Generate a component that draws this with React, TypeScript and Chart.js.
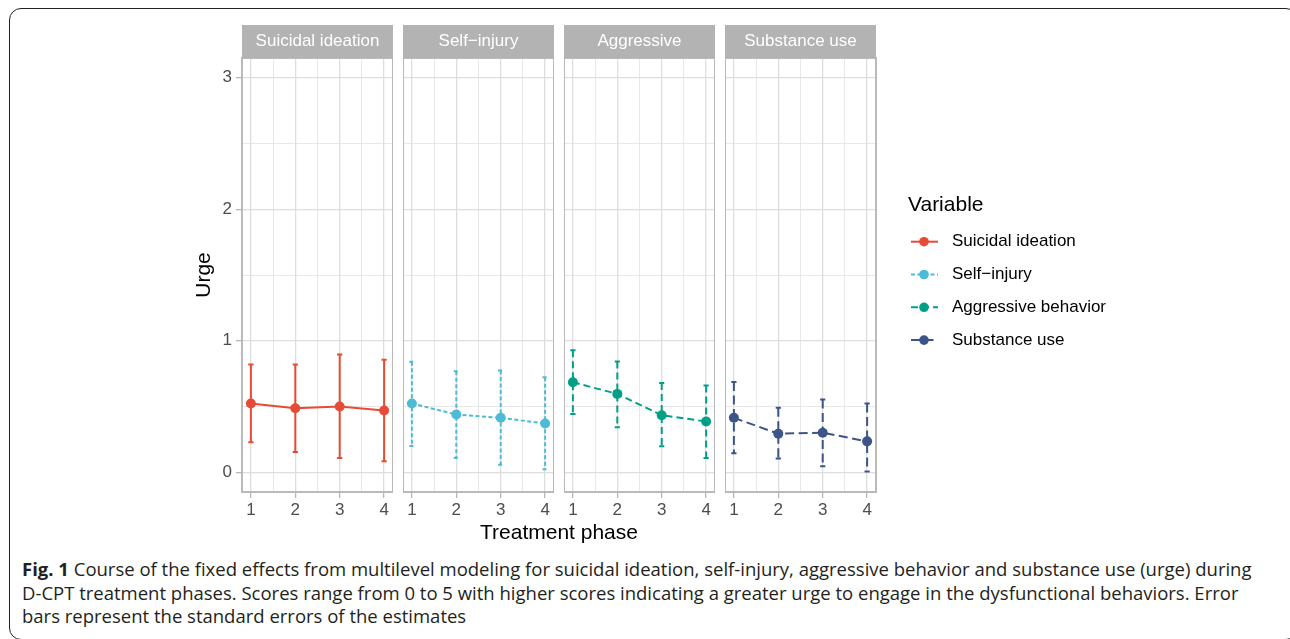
import React, { useEffect, useRef } from 'react';
import { Chart, registerables } from 'chart.js';

Chart.register(...registerables);

// ---------- data ----------
const phases = [1, 2, 3, 4];
const panelTitles = ['Suicidal ideation', 'Self\u2212injury', 'Aggressive', 'Substance use'];
const legendTitle = 'Variable';
const legendLabels = ['Suicidal ideation', 'Self\u2212injury', 'Aggressive behavior', 'Substance use'];

const suicidalMean = [0.523, 0.487, 0.5, 0.47];
const suicidalLow = [0.229, 0.154, 0.108, 0.083];
const suicidalHigh = [0.82, 0.82, 0.896, 0.856];

const selfInjuryMean = [0.523, 0.439, 0.414, 0.371];
const selfInjuryLow = [0.2, 0.108, 0.058, 0.023];
const selfInjuryHigh = [0.841, 0.768, 0.773, 0.722];

const aggressiveMean = [0.684, 0.596, 0.434, 0.386];
const aggressiveLow = [0.444, 0.343, 0.197, 0.108];
const aggressiveHigh = [0.927, 0.843, 0.679, 0.659];

const substanceMean = [0.414, 0.293, 0.301, 0.235];
const substanceLow = [0.144, 0.104, 0.045, 0.005];
const substanceHigh = [0.687, 0.49, 0.553, 0.523];

const yTickValues = [0, 0.5, 1, 1.5, 2, 2.5, 3];
const xTickValues = [1, 1.5, 2, 2.5, 3, 3.5, 4];

const captionLines = [
  'Course of the fixed effects from multilevel modeling for suicidal ideation, self-injury, aggressive behavior and substance use (urge) during',
  'D-CPT treatment phases. Scores range from 0 to 5 with higher scores indicating a greater urge to engage in the dysfunctional behaviors. Error',
  'bars represent the standard errors of the estimates',
];

// ---------- styles ----------
const seriesColors = ['#E64B35', '#4DBBD5', '#00A087', '#3C5488'];
const seriesDashes: number[][] = [[], [4, 2.5], [7, 4], [9, 4.5]];

const means = [suicidalMean, selfInjuryMean, aggressiveMean, substanceMean];
const lows = [suicidalLow, selfInjuryLow, aggressiveLow, substanceLow];
const highs = [suicidalHigh, selfInjuryHigh, aggressiveHigh, substanceHigh];

const FONT = "'Liberation Sans', Arial, Helvetica, sans-serif";
const CAPTION_FONT = "'Open Sans', Lato, sans-serif";
const PANEL_LEFTS = [242, 403, 564, 725];
const PANEL_W = 151;
const STRIP_TOP = 25;
const STRIP_H = 33;
const PLOT_H = 434;
const XAXIS_H = 30;
const YAXIS_W = 52;
const CANVAS_H = STRIP_H + PLOT_H + XAXIS_H;
const LEGEND_SPACE = 420;
const LEGEND_X = 908;
const LEGEND_Y = 205;

const GRID = '#dedede';
const BORDER = '#b3b3b3';
const TICKTEXT = '#4d4d4d';

const isMajor = (v: number) => Math.abs(v - Math.round(v)) < 1e-9;

const errorBarPlugin = {
  id: 'errorBars',
  beforeDatasetsDraw(chart: any) {
    const { ctx } = chart;
    const xs = chart.scales.x;
    const ys = chart.scales.y;
    chart.data.datasets.forEach((ds: any) => {
      ctx.save();
      ctx.strokeStyle = ds.borderColor;
      ctx.lineWidth = ds.borderWidth;
      ctx.lineCap = 'butt';
      ctx.setLineDash(ds.borderDash || []);
      ds.data.forEach((pt: any, k: number) => {
        const px = xs.getPixelForValue(pt.x);
        const yh = ys.getPixelForValue(ds.errHigh[k]);
        const yl = ys.getPixelForValue(ds.errLow[k]);
        const w = 2.6;
        ctx.beginPath();
        ctx.moveTo(px - w, yh);
        ctx.lineTo(px + w, yh);
        ctx.moveTo(px, yh);
        ctx.lineTo(px, yl);
        ctx.moveTo(px - w, yl);
        ctx.lineTo(px + w, yl);
        ctx.stroke();
      });
      ctx.restore();
    });
  },
};

const panelPlugin = {
  id: 'facetPanel',
  beforeDraw(chart: any, _a: any, opts: any) {
    const { ctx, chartArea } = chart;
    ctx.save();
    ctx.fillStyle = BORDER;
    ctx.fillRect(chartArea.left, chartArea.top - STRIP_H, chartArea.right - chartArea.left, STRIP_H);
    ctx.fillStyle = '#ffffff';
    ctx.font = `17px ${FONT}`;
    ctx.textAlign = 'center';
    ctx.textBaseline = 'middle';
    ctx.fillText(opts.title, (chartArea.left + chartArea.right) / 2, chartArea.top - STRIP_H / 2);
    ctx.restore();
  },
  afterDraw(chart: any) {
    const { ctx, chartArea } = chart;
    ctx.save();
    ctx.strokeStyle = BORDER;
    ctx.lineWidth = 1.8;
    ctx.strokeRect(chartArea.left, chartArea.top, chartArea.right - chartArea.left, chartArea.bottom - chartArea.top);
    ctx.restore();
  },
};

const legendPlugin = {
  id: 'facetLegend',
  afterDraw(chart: any, _a: any, opts: any) {
    if (!opts || !opts.show) return;
    const { ctx } = chart;
    const ox = opts.x;
    const oy = opts.y;
    ctx.save();
    ctx.textAlign = 'left';
    ctx.textBaseline = 'middle';
    ctx.fillStyle = '#000';
    ctx.font = `21px ${FONT}`;
    ctx.fillText(legendTitle, ox, oy);
    legendLabels.forEach((lab, k) => {
      const cy = oy + 36.7 + k * 32.8;
      ctx.strokeStyle = seriesColors[k];
      ctx.lineWidth = 2;
      ctx.setLineDash(seriesDashes[k]);
      ctx.beginPath();
      ctx.moveTo(ox + 3, cy);
      ctx.lineTo(ox + 30, cy);
      ctx.stroke();
      ctx.setLineDash([]);
      ctx.fillStyle = seriesColors[k];
      ctx.beginPath();
      ctx.arc(ox + 16, cy, 4.8, 0, Math.PI * 2);
      ctx.fill();
      ctx.fillStyle = '#000';
      ctx.font = `17px ${FONT}`;
      ctx.fillText(lab, ox + 44, cy);
    });
    ctx.restore();
  },
};

function canvasLeft(i: number) {
  return i === 0 ? PANEL_LEFTS[0] - YAXIS_W : PANEL_LEFTS[i];
}
function canvasWidth(i: number) {
  if (i === 0) return YAXIS_W + PANEL_W;
  if (i === 3) return PANEL_W + LEGEND_SPACE;
  return PANEL_W;
}

function makeConfig(i: number): any {
  const first = i === 0;
  const last = i === 3;
  return {
    type: 'line',
    data: {
      datasets: [
        {
          label: legendLabels[i],
          data: phases.map((x, k) => ({ x, y: means[i][k] })),
          errLow: lows[i],
          errHigh: highs[i],
          borderColor: seriesColors[i],
          backgroundColor: seriesColors[i],
          borderWidth: 2,
          borderDash: seriesDashes[i],
          pointRadius: 5,
          pointBorderWidth: 0,
          pointBackgroundColor: seriesColors[i],
          tension: 0,
          fill: false,
        },
      ],
    },
    options: {
      animation: false,
      responsive: false,
      events: [],
      layout: { autoPadding: false, padding: { top: STRIP_H, left: 0, bottom: 0, right: last ? LEGEND_SPACE : 0 } },
      plugins: {
        legend: { display: false },
        tooltip: { enabled: false },
        facetPanel: { title: panelTitles[i] },
        facetLegend: { show: last, x: LEGEND_X - canvasLeft(i), y: LEGEND_Y - STRIP_TOP },
      },
      scales: {
        x: {
          type: 'linear',
          min: 0.8,
          max: 4.2,
          afterBuildTicks: (s: any) => {
            s.ticks = xTickValues.map((v) => ({ value: v }));
          },
          afterFit: (s: any) => {
            s.height = XAXIS_H;
            s.paddingLeft = 0;
            s.paddingRight = 0;
          },
          border: { display: false },
          grid: {
            color: GRID,
            lineWidth: (c: any) => (c.tick && isMajor(c.tick.value) ? 1.3 : 0.7),
            tickColor: (c: any) => (c.tick && isMajor(c.tick.value) ? BORDER : 'rgba(0,0,0,0)'),
            tickLength: 6,
            tickWidth: 1.2,
          },
          ticks: {
            autoSkip: false,
            maxRotation: 0,
            padding: 2,
            color: TICKTEXT,
            font: { family: FONT, size: 17 },
            callback: (v: number) => (isMajor(v) ? String(v) : ''),
          },
        },
        y: {
          type: 'linear',
          min: -0.15,
          max: 3.15,
          afterBuildTicks: (s: any) => {
            s.ticks = yTickValues.map((v) => ({ value: v }));
          },
          afterFit: (s: any) => {
            s.width = first ? YAXIS_W : 0;
            s.paddingTop = 0;
            s.paddingBottom = 0;
          },
          border: { display: false },
          title: first
            ? { display: true, text: 'Urge', color: '#000', font: { family: FONT, size: 21, lineHeight: 1.2 }, padding: { top: 2, bottom: 0 } }
            : { display: false },
          grid: {
            color: GRID,
            lineWidth: (c: any) => (c.tick && isMajor(c.tick.value) ? 1.3 : 0.7),
            tickColor: (c: any) => (c.tick && isMajor(c.tick.value) ? BORDER : 'rgba(0,0,0,0)'),
            drawTicks: first,
            tickLength: 6,
            tickWidth: 1.2,
          },
          ticks: {
            display: first,
            autoSkip: false,
            padding: 4,
            color: TICKTEXT,
            font: { family: FONT, size: 17 },
            callback: (v: number) => (isMajor(v) ? String(v) : ''),
          },
        },
      },
    },
    plugins: [panelPlugin, errorBarPlugin, legendPlugin],
  };
}

export default function App() {
  const canvases = useRef<(HTMLCanvasElement | null)[]>([]);

  useEffect(() => {
    const charts = canvases.current.map((c, i) => new Chart(c as HTMLCanvasElement, makeConfig(i)));
    return () => charts.forEach((c) => c.destroy());
  }, []);

  return (
    <div style={{ position: 'fixed', left: 0, top: 0, width: 1290, height: 639, background: '#fff', overflow: 'hidden' }}>
      <div
        style={{
          position: 'absolute',
          left: 9,
          top: 8,
          width: 1289,
          height: 632,
          boxSizing: 'border-box',
          border: '1.5px solid #222',
          borderRadius: 12,
        }}
      />
      {[0, 1, 2, 3].map((i) => (
        <canvas
          key={i}
          ref={(el) => {
            canvases.current[i] = el;
          }}
          width={canvasWidth(i)}
          height={CANVAS_H}
          style={{ position: 'absolute', left: canvasLeft(i), top: STRIP_TOP, width: canvasWidth(i), height: CANVAS_H }}
        />
      ))}
      <div
        style={{
          position: 'absolute',
          left: 459,
          top: 519,
          width: 200,
          textAlign: 'center',
          fontFamily: FONT,
          fontSize: 21,
          lineHeight: '25px',
          color: '#000',
          whiteSpace: 'nowrap',
        }}
      >
        Treatment phase
      </div>
      <div
        style={{
          position: 'absolute',
          left: 22,
          top: 557,
          fontFamily: CAPTION_FONT,
          fontSize: 18.5,
          lineHeight: '23.5px',
          color: '#231f20',
          whiteSpace: 'nowrap',
        }}
      >
        <div>
          <b>Fig. 1</b> {captionLines[0]}
        </div>
        <div>{captionLines[1]}</div>
        <div>{captionLines[2]}</div>
      </div>
    </div>
  );
}
